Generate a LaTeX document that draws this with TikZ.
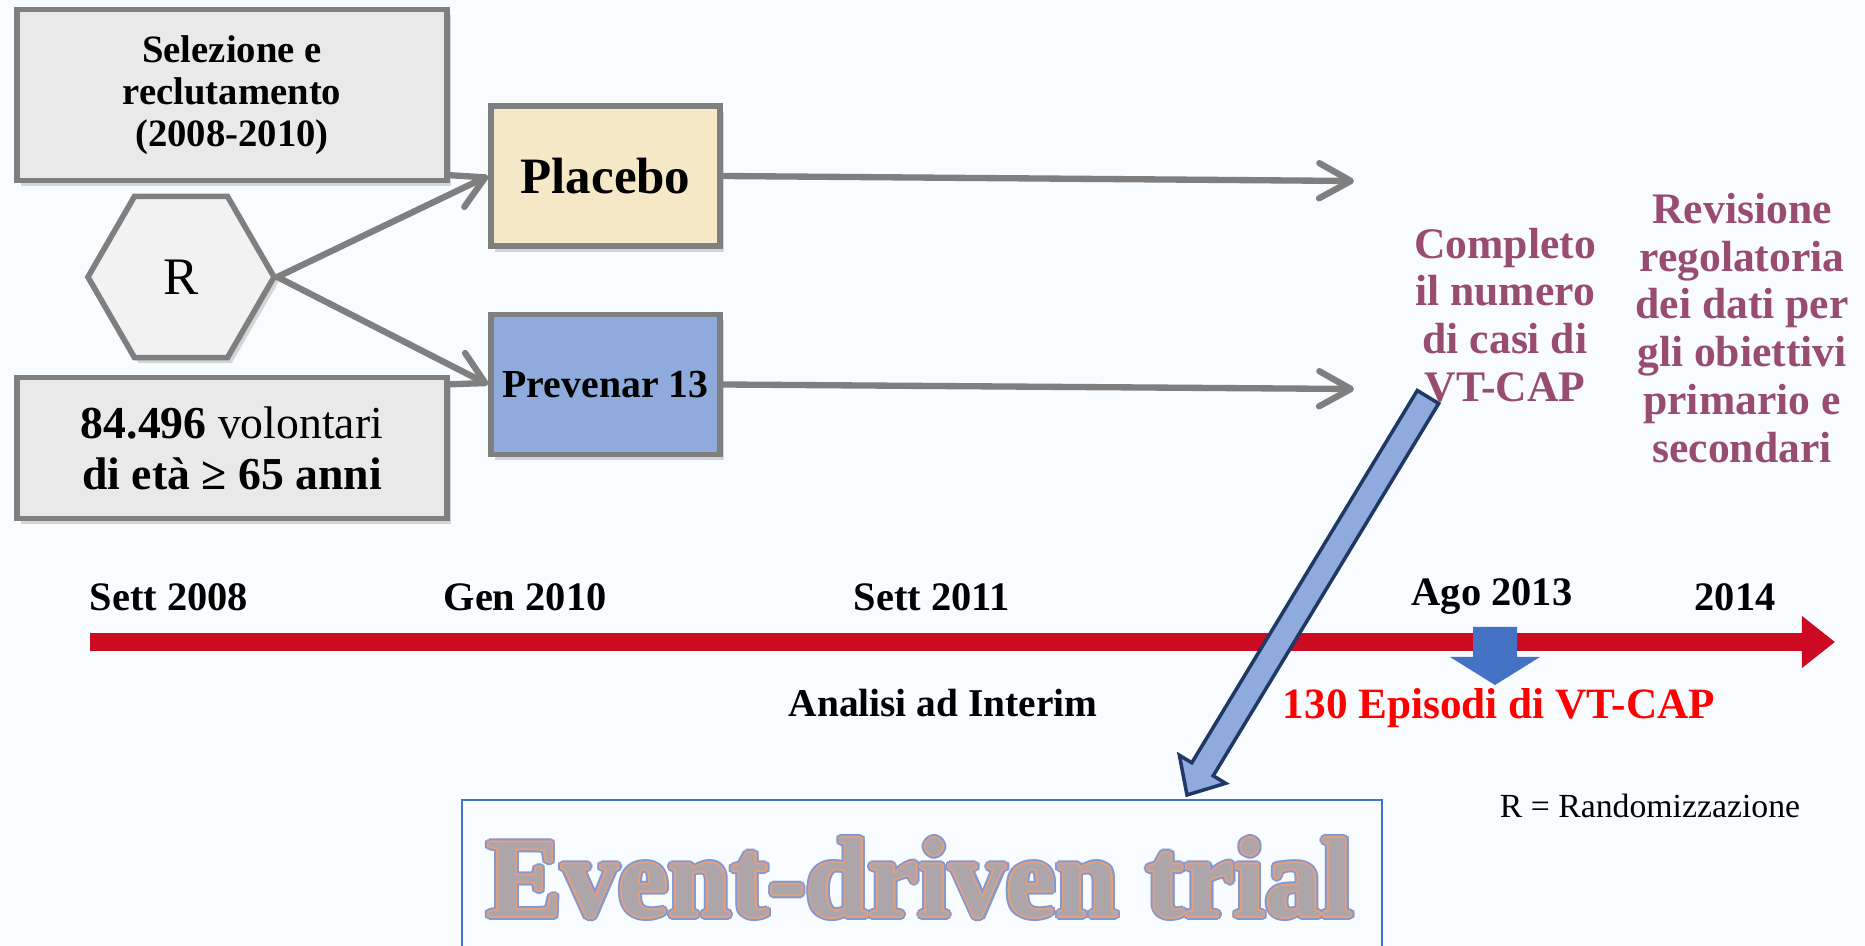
\documentclass[tikz,border=0pt]{standalone}
\usepackage{fontspec}
\setmainfont{Liberation Serif}
\usetikzlibrary{arrows.meta,shapes.geometric,shadows}

\definecolor{pagebg}{RGB}{248,252,254}
\definecolor{boxline}{RGB}{127,127,127}
\definecolor{boxgrey}{RGB}{233,233,233}
\definecolor{hexgrey}{RGB}{242,242,242}
\definecolor{placebofill}{RGB}{245,232,199}
\definecolor{prevfill}{RGB}{143,170,220}
\definecolor{tlred}{RGB}{204,10,33}
\definecolor{eventred}{RGB}{255,0,0}
\definecolor{notepurple}{RGB}{152,76,112}
\definecolor{markblue}{RGB}{68,114,196}
\definecolor{bigline}{RGB}{32,56,100}
\definecolor{evblue}{RGB}{130,152,208}
\definecolor{evorange}{RGB}{226,160,128}
\definecolor{evgrey}{RGB}{172,166,170}

\tikzset{
  greybox/.style={draw=boxline, line width=1.6pt, fill=boxgrey, align=center,
    minimum width=4.3cm, inner sep=0pt,
    drop shadow={opacity=0.3, shadow xshift=1.2pt, shadow yshift=-1.6pt}},
  armbox/.style={draw=boxline, line width=1.6pt, minimum width=2.29cm,
    minimum height=1.4cm, inner sep=0pt,
    drop shadow={opacity=0.3, shadow xshift=1.2pt, shadow yshift=-1.6pt}},
  armarrow/.style={draw=boxline, line width=1.8pt, line cap=round,
    -{Straight Barb[length=9pt,width=10pt,round]}},
  yearlabel/.style={font=\fontsize{11.5}{13}\selectfont\bfseries},
  purplenote/.style={text=notepurple, align=center,
    font=\fontsize{12.4}{13.6}\selectfont\bfseries},
  evfont/.style={font=\fontsize{32}{34}\selectfont\bfseries},
}

\begin{document}
\begin{tikzpicture}[x=0.01cm, y=-0.01cm]
  \useasboundingbox (0,0) rectangle (1865,946);
  \fill[pagebg] (0,0) rectangle (1865,946);
  \clip (0,0) rectangle (1865,946);

  % left column
  \node[greybox, minimum height=1.71cm, font=\fontsize{11}{12}\selectfont\bfseries]
    (Selezione) at (232,95) {Selezione e\\reclutamento\\(2008-2010)};
  \node[regular polygon, regular polygon sides=6, minimum size=1.86cm, inner sep=0pt,
    draw=boxline, line width=1.6pt, fill=hexgrey, font=\fontsize{15}{15}\selectfont,
    drop shadow={opacity=0.3, shadow xshift=1.2pt, shadow yshift=-1.6pt}]
    (Rand) at (181,277) {R};
  \node[greybox, minimum height=1.41cm, font=\fontsize{13}{14.5}\selectfont]
    (Volontari) at (232,448) {\textbf{84.496} volontari\\\textbf{di età ≥ 65 anni}};

  % the two arms
  \node[armbox, fill=placebofill, font=\fontsize{14.5}{15}\selectfont\bfseries]
    (Placebo) at (605.5,176) {Placebo};
  \node[armbox, fill=prevfill, font=\fontsize{11.3}{12}\selectfont\bfseries]
    (Prevenar) at (605.5,384.5) {Prevenar 13};
  \draw[armarrow] (Rand.east) -- (Placebo.west);
  \draw[armarrow] (Rand.east) -- (Prevenar.west);

  \coordinate (PlaceboEnd) at (1354,181);
  \coordinate (PrevenarEnd) at (1354,389);
  \draw[armarrow] (Placebo.east) -- (PlaceboEnd);
  \draw[armarrow] (Prevenar.east) -- (PrevenarEnd);

  % notes on the right
  \node[purplenote] (Completo) at (1505,315)
    {Completo\\il numero\\di casi di\\VT-CAP};
  \node[purplenote] (Revisione) at (1742,328)
    {Revisione\\regolatoria\\dei dati per\\gli obiettivi\\primario e\\secondari};

  % timeline
  \coordinate (TimeStart) at (90,642);
  \coordinate (TimeEnd) at (1835,642);
  \draw[tlred, line width=4.84pt, -{Triangle[length=9.4pt,width=14.2pt]}]
    (TimeStart) -- (TimeEnd);
  \node[yearlabel] (Sett2008) at (169,597) {Sett 2008};
  \node[yearlabel] (Gen2010) at (525,597) {Gen 2010};
  \node[yearlabel] (Sett2011) at (932,597) {Sett 2011};
  \node[yearlabel] (Ago2013) at (1492,597) {Ago 2013};
  \node[yearlabel] (Year2014) at (1735,597) {2014};

  \node[font=\fontsize{11.2}{13}\selectfont\bfseries] (Interim) at (943,703)
    {Analisi ad Interim};
  \node[text=eventred, font=\fontsize{12.3}{14}\selectfont\bfseries] (Episodi)
    at (1499,708) {130 Episodi di VT-CAP};
  \fill[markblue] (1473,627) -- (1517,627) -- (1517,657) -- (1540,657)
    -- (1495,685) -- (1450,657) -- (1473,657) -- cycle;

  \node[font=\fontsize{9.6}{11}\selectfont] (Legend) at (1650,806)
    {R = Randomizzazione};

  % block arrow down to the box
  \draw[bigline, line width=1pt, fill=prevfill, line join=miter]
    (1417.3,390.5) -- (1191.8,762.8) -- (1179.4,755.3) -- (1187,795)
    -- (1225.6,783.3) -- (1213.2,775.8) -- (1438.7,403.5) -- cycle;

  % event-driven box
  \node[draw=markblue, line width=0.6pt, minimum width=9.19cm, minimum height=2cm,
    anchor=north west] (EventBox) at (461,799) {};
  \foreach \a in {0,30,...,330}
    \node[evfont, text=evblue, shift={(\a:1.1pt)}] (EventGlow\a) at (920,878)
      {Event-driven trial};
  \foreach \a in {0,45,...,315}
    \node[evfont, text=evorange, shift={(\a:0.5pt)}] (EventEdge\a) at (920,878)
      {Event-driven trial};
  \node[evfont, text=evgrey] (EventText) at (920,878) {Event-driven trial};
\end{tikzpicture}
\end{document}
